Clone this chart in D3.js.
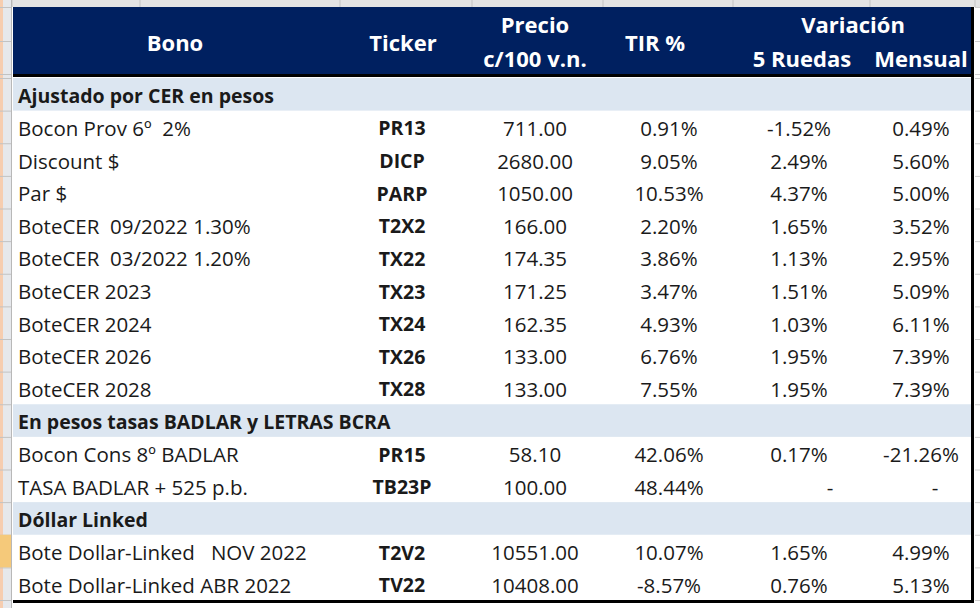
<!DOCTYPE html>
<html><head><meta charset="utf-8">
<script src="https://cdn.jsdelivr.net/npm/d3@7"></script>
<style>html,body{margin:0;padding:0;background:#fff;}svg{display:block;}</style>
</head><body>
<svg id="c" width="980" height="608"></svg>
<script>
const sections = ["Ajustado por CER en pesos", "En pesos tasas BADLAR y LETRAS BCRA", "Dóllar Linked"];
const bonos = ["Bocon Prov 6º  2%", "Discount $", "Par $", "BoteCER  09/2022 1.30%", "BoteCER  03/2022 1.20%",
  "BoteCER 2023", "BoteCER 2024", "BoteCER 2026", "BoteCER 2028", "Bocon Cons 8º BADLAR",
  "TASA BADLAR + 525 p.b.", "Bote Dollar-Linked   NOV 2022", "Bote Dollar-Linked ABR 2022"];
const sectionOf = [0,0,0,0,0,0,0,0,0,1,1,2,2];
const tickers = ["PR13","DICP","PARP","T2X2","TX22","TX23","TX24","TX26","TX28","PR15","TB23P","T2V2","TV22"];
const precios = [711.00, 2680.00, 1050.00, 166.00, 174.35, 171.25, 162.35, 133.00, 133.00, 58.10, 100.00, 10551.00, 10408.00];
const tir = [0.91, 9.05, 10.53, 2.20, 3.86, 3.47, 4.93, 6.76, 7.55, 42.06, 48.44, 10.07, -8.57];
const var5 = [-1.52, 2.49, 4.37, 1.65, 1.13, 1.51, 1.03, 1.95, 1.95, 0.17, null, 1.65, 0.76];
const varMes = [0.49, 5.60, 5.00, 3.52, 2.95, 5.09, 6.11, 7.39, 7.39, -21.26, null, 4.99, 5.13];
const columns = ["bono","ticker","precio","tir","var5","mes"];

const loc = d3.formatLocale({decimal: ".", thousands: ",", grouping: [3], currency: ["$", ""], minus: "-"});
const f2 = loc.format(".2f");
const pct = v => f2(v) + "%";

// build row list
const rows = [];
bonos.forEach((b,i) => {
  if (i === 0 || sectionOf[i] !== sectionOf[i-1]) rows.push({type:"section", label: sections[sectionOf[i]]});
  rows.push({type:"data", i});
});

const svg = d3.select("#c");
const FONT = "'Open Sans', 'Noto Sans', sans-serif";
const left = 13, right = 972, headTop = 7, headBot = 74, tableTop = 78, tableBot = 600;

const y = d3.scaleBand().domain(d3.range(rows.length)).range([tableTop, tableBot]).padding(0);
const x = d3.scaleOrdinal().domain(columns).range([18, 402, 535, 669, 799, 921]);

// excel chrome background
svg.append("rect").attr("x",0).attr("y",0).attr("width",980).attr("height",608).attr("fill","#ffffff");
svg.append("rect").attr("x",0).attr("y",0).attr("width",980).attr("height",headTop).attr("fill","#e4e4e4");
[12, 140, 340, 472, 603, 733, 870, 975].forEach(v => svg.append("line").attr("x1",v).attr("x2",v).attr("y1",0).attr("y2",headTop).attr("stroke","#c4c4c4"));
svg.append("rect").attr("x",0).attr("y",0).attr("width",11).attr("height",608).attr("fill","#e6e8ec");
svg.append("rect").attr("x",0).attr("y",0).attr("width",3).attr("height",608).attr("fill","#f6cdb0");
svg.append("line").attr("x1",11.5).attr("x2",11.5).attr("y1",0).attr("y2",608).attr("stroke","#b8b8b8");
const bounds = [headTop, 41, headBot].concat(d3.range(rows.length+1).map(k => y(0) + k*y.bandwidth()));
bounds.forEach(v => svg.append("line").attr("x1",0).attr("x2",11).attr("y1",v+0.5).attr("y2",v+0.5).attr("stroke","#c2c2c2"));
// active row highlight
const activeRow = rows.findIndex(r => r.type==="data" && r.i === 11);
svg.append("rect").attr("x",0).attr("y",y(activeRow)).attr("width",11).attr("height",y.bandwidth()).attr("fill","#f5c97a");
// right side gridline ticks
bounds.forEach(v => svg.append("line").attr("x1",975).attr("x2",980).attr("y1",v+0.5).attr("y2",v+0.5).attr("stroke","#d0d0d0"));

// header
svg.append("rect").attr("x",left).attr("y",headTop).attr("width",right-left).attr("height",headBot-headTop).attr("fill","#002060");
const head = svg.append("g").attr("fill","#ffffff").attr("font-family",FONT).attr("font-weight","bold").attr("font-size",22).attr("text-anchor","middle").attr("dominant-baseline","central");
head.append("text").attr("x",175).attr("y",42).text("Bono");
head.append("text").attr("x",x("ticker")+1).attr("y",42).text("Ticker");
head.append("text").attr("x",x("precio")).attr("y",24).text("Precio");
head.append("text").attr("x",x("precio")).attr("y",58).text("c/100 v.n.");
head.append("text").attr("x",655).attr("y",42).text("TIR %");
head.append("text").attr("x",853).attr("y",24).text("Variación");
head.append("text").attr("x",802).attr("y",58).text("5 Ruedas");
head.append("text").attr("x",921).attr("y",58).text("Mensual");

// rows
const g = svg.append("g").attr("font-family",FONT).attr("font-size",20.5).attr("fill","#1a1a1a").attr("dominant-baseline","central");
rows.forEach((r,k) => {
  const cy = y(k) + y.bandwidth()/2 + 1;
  if (r.type === "section") {
    g.append("rect").attr("x",left).attr("y",y(k)).attr("width",right-left).attr("height",y.bandwidth()).attr("fill","#dce6f1");
    g.append("text").attr("x",x("bono")).attr("y",cy).attr("font-weight","bold").attr("font-size",19.5).text(r.label);
  } else {
    const i = r.i;
    g.append("text").attr("x",x("bono")).attr("y",cy).style("white-space","pre").text(bonos[i]);
    g.append("text").attr("x",x("ticker")).attr("y",cy).attr("text-anchor","middle").attr("font-weight","bold").attr("font-size",19.5).text(tickers[i]);
    g.append("text").attr("x",x("precio")).attr("y",cy).attr("text-anchor","middle").text(f2(precios[i]));
    g.append("text").attr("x",x("tir")).attr("y",cy).attr("text-anchor","middle").text(pct(tir[i]));
    if (var5[i] === null) g.append("text").attr("x",x("var5")+31).attr("y",cy).attr("text-anchor","middle").text("-");
    else g.append("text").attr("x",x("var5")).attr("y",cy).attr("text-anchor","middle").text(pct(var5[i]));
    if (varMes[i] === null) g.append("text").attr("x",x("mes")+14).attr("y",cy).attr("text-anchor","middle").text("-");
    else g.append("text").attr("x",x("mes")).attr("y",cy).attr("text-anchor","middle").text(pct(varMes[i]));
  }
});

// borders
svg.append("rect").attr("x",left).attr("y",headBot).attr("width",right-left+2).attr("height",3).attr("fill","#000");
svg.append("rect").attr("x",left).attr("y",tableBot).attr("width",right-left+2).attr("height",3).attr("fill","#000");
svg.append("rect").attr("x",right-1).attr("y",headTop).attr("width",3).attr("height",tableBot-headTop+3).attr("fill","#000");
</script>
</body></html>
